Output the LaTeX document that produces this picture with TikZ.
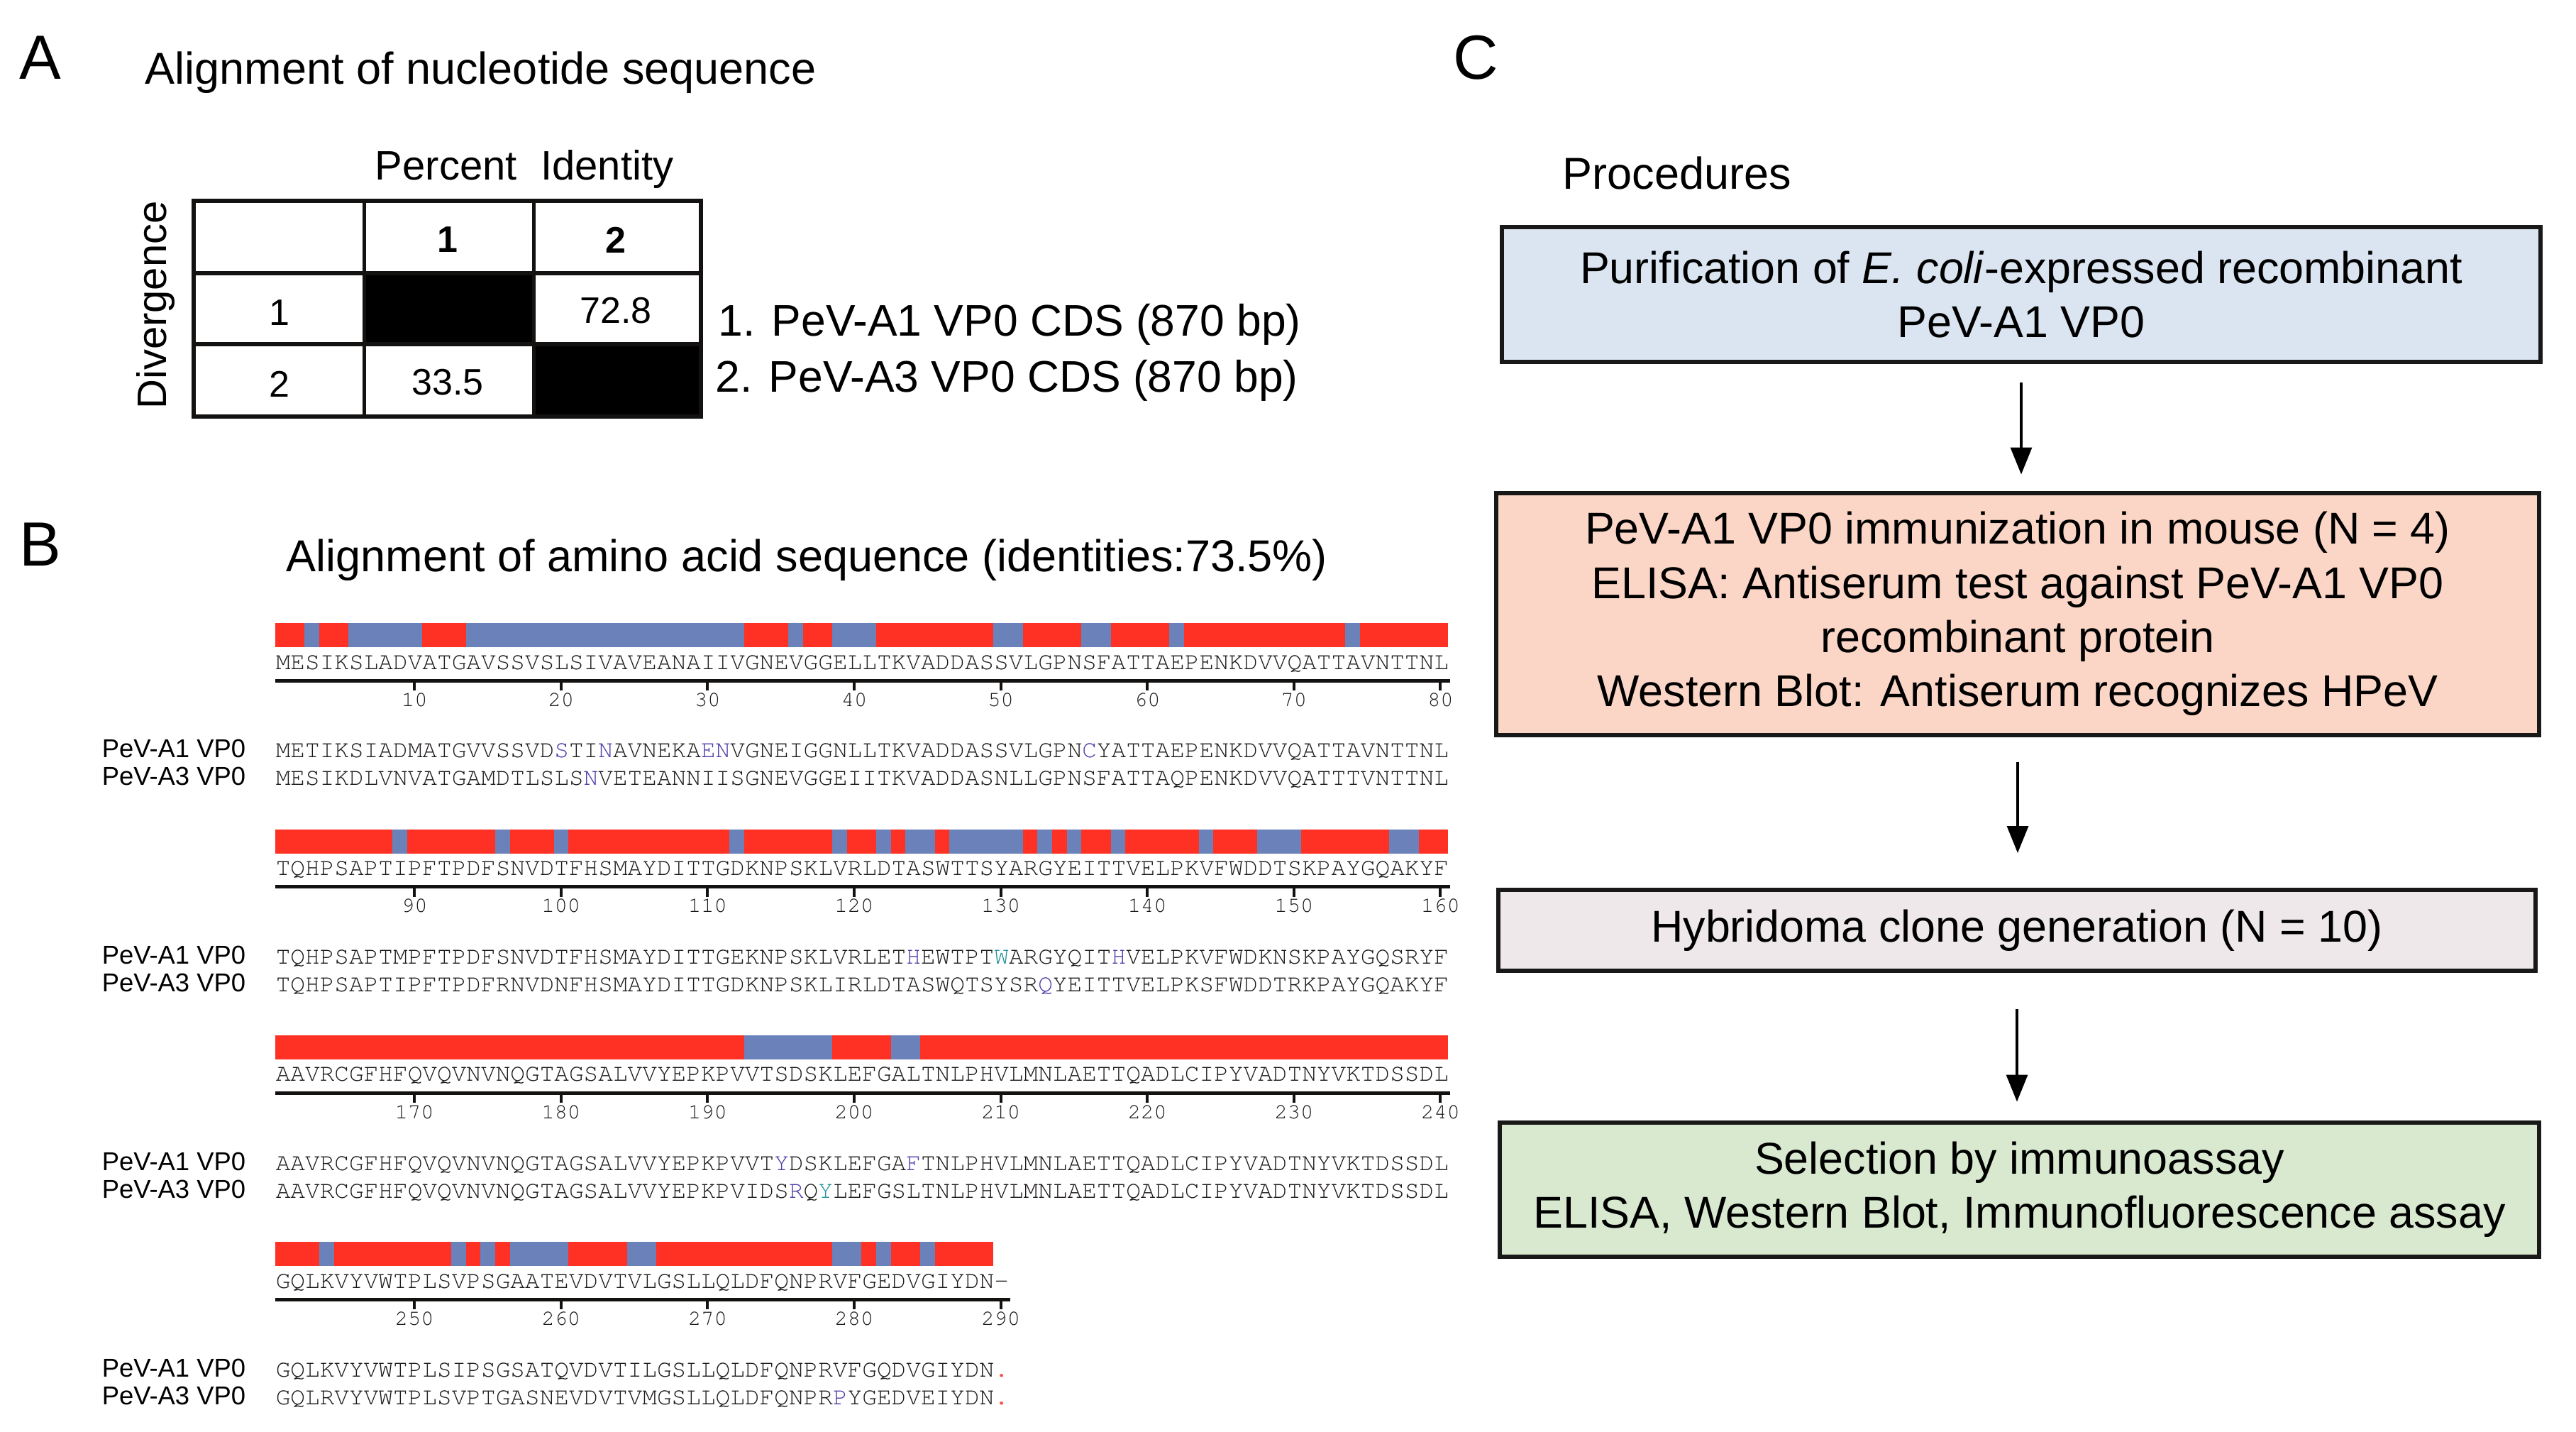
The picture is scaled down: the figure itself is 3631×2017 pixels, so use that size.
\documentclass[tikz,border=0pt]{standalone}
\usepackage[T1,TU]{fontenc}
\usepackage{fontspec}
\setmainfont{Liberation Sans}
\usetikzlibrary{arrows.meta}
\definecolor{seqred}{RGB}{255,49,36}
\definecolor{seqblue}{RGB}{106,129,185}
\definecolor{hlpc}{RGB}{75,62,170}
\definecolor{hltc}{RGB}{35,145,155}
\definecolor{hlrc}{RGB}{240,90,80}
\definecolor{seqtxt}{RGB}{30,26,26}
\definecolor{rulecol}{RGB}{20,18,16}
\definecolor{boxline}{RGB}{24,24,24}
\definecolor{boxblue}{RGB}{219,229,241}
\definecolor{boxpeach}{RGB}{251,214,198}
\definecolor{boxgray}{RGB}{238,232,234}
\definecolor{boxgreen}{RGB}{216,233,208}
\newcommand\seqfont{\fontencoding{T1}\fontfamily{pcr}\fontseries{m}\fontshape{n}\fontsize{8.61pt}{10pt}\selectfont}
\newcommand\numfont{\fontencoding{T1}\fontfamily{pcr}\fontseries{m}\fontshape{n}\fontsize{7.6pt}{9pt}\selectfont}
\newcommand\hlP[1]{\textcolor{hlpc}{#1}}
\newcommand\hlT[1]{\textcolor{hltc}{#1}}
\newcommand\hlR[1]{\textcolor{hlrc}{#1}}
% bar: #1 y0, #2 nchars, #3 blue runs
\newcommand\seqbar[3]{%
  \fill[seqred] (388,#1) rectangle ({388+#2*20.66},#1+34);
  \foreach \a/\b in {#3} {\fill[seqblue] ({388+(\a-1)*20.66},#1) rectangle ({388+\b*20.66},#1+34);}
}
% ruler: #1 tag, #2 y0, #3 nchars, #4 nticks, #5 number offset
\newcommand\seqruler[5]{%
  \draw[line width=1.25pt, rulecol] (388,#2+81) -- ({388+#3*20.66+3},#2+81);
  \foreach \t in {1,...,#4} {
    \pgfmathtruncatemacro\nn{#5+10*\t}
    \draw[line width=1pt, rulecol] ({388+(10*\t-0.5)*20.66},#2+81) -- ({388+(10*\t-0.5)*20.66},#2+95);
    \node[rnum] (n#1-\t) at ({388+(10*\t-0.5)*20.66},#2+117) {\nn};
  }
}
\begin{document}
\begin{tikzpicture}[x=0.25pt,y=-0.25pt,
  lab/.style={inner sep=0pt, anchor=base west, font=\fontsize{22pt}{26pt}\selectfont},
  ttl/.style={inner sep=0pt, anchor=base west, font=\fontsize{15.75pt}{19pt}\selectfont},
  seq/.style={inner sep=0pt, anchor=base west, font=\seqfont, text=seqtxt},
  seqlab/.style={inner sep=0pt, anchor=base west, font=\fontsize{9.1pt}{11pt}\selectfont},
  rnum/.style={inner sep=0pt, anchor=base, font=\numfont, text=seqtxt},
  tnum/.style={inner sep=0pt, font=\fontsize{13pt}{15pt}\selectfont},
  tnumb/.style={inner sep=0pt, font=\bfseries\fontsize{13pt}{15pt}\selectfont},
  box/.style={draw=boxline, line width=1.5pt, align=center, inner sep=0pt, font=\fontsize{15.7pt}{19.1pt}\selectfont},
  arr/.style={line width=0.8pt, draw=black, -{Triangle[width=7.5pt,length=9.5pt]}}
]
\useasboundingbox (0,0) rectangle (3631,2017);
\fill[white] (0,0) rectangle (3631,2017);

% ---------------- Panel A ----------------
\node[lab] (labA) at (27,111) {A};
\node[ttl] (ttlA) at (204,118) {Alignment of nucleotide sequence};
\node[inner sep=0pt, anchor=base, font=\fontsize{14.5pt}{17pt}\selectfont] (pid) at (739,253) {Percent\hspace{0.3em} Identity};
\node[rotate=90, anchor=base, inner sep=0pt, font=\fontsize{14.5pt}{16pt}\selectfont] (div) at (234,430) {Divergence};

\fill[black] (513,385) rectangle (752,485);
\fill[black] (752,485) rectangle (988,587);
\draw[line width=1.4pt, rulecol] (273,283) rectangle (988,587);
\draw[line width=1.5pt, rulecol] (273,385) -- (988,385);
\draw[line width=1.5pt, rulecol] (273,485) -- (988,485);
\draw[line width=1.25pt, rulecol] (513,283) -- (513,587);
\draw[line width=1.25pt, rulecol] (752,283) -- (752,587);

\node[tnumb] (h1) at (631,338) {1};
\node[tnumb] (h2) at (868,338) {2};
\node[tnum] (r1) at (394,441) {1};
\node[tnum] (r2) at (394,541) {2};
\node[tnum] (v12) at (868,438) {72.8};
\node[tnum] (v21) at (631,539) {33.5};

\node[ttl, font=\fontsize{15.6pt}{19pt}\selectfont] (leg1) at (1012,473) {1. PeV-A1 VP0 CDS (870 bp)};
\node[ttl, font=\fontsize{15.6pt}{19pt}\selectfont] (leg2) at (1008,552) {2. PeV-A3 VP0 CDS (870 bp)};

% ---------------- Panel B ----------------
\node[lab] (labB) at (27,797) {B};
\node[ttl] (ttlB) at (403,805) {Alignment of amino acid sequence (identities:73.5\%)};

% block 1
\seqbar{878}{80}{3/3,6/10,14/32,36/36,39/41,50/51,56/57,62/62,74/74}
\node[seq] (c1) at (388,943) {MESIKSLADVATGAVSSVSLSIVAVEANAIIVGNEVGGELLTKVADDASSVLGPNSFATTAEPENKDVVQATTAVNTTNL};
\seqruler{1}{878}{80}{8}{0}
\node[seqlab] (l1a) at (143,1067) {PeV-A1 VP0};
\node[seqlab] (l1b) at (143,1106) {PeV-A3 VP0};
\node[seq] (s1a) at (388,1067) {METIKSIADMATGVVSSVD\hlP{S}TI\hlP{N}AVNEKA\hlP{EN}VGNEIGGNLLTKVADDASSVLGPN\hlP{C}YATTAEPENKDVVQATTAVNTTNL};
\node[seq] (s1b) at (388,1106) {MESIKDLVNVATGAMDTLSLS\hlP{N}VETEANNIISGNEVGGEIITKVADDASNLLGPNSFATTAQPENKDVVQATTTVNTTNL};

% block 2
\seqbar{1168.7}{80}{9/9,16/16,20/20,32/32,39/39,42/42,44/45,47/51,53/53,55/55,58/58,64/64,68/70,77/78}
\node[seq] (c2) at (388,1233) {TQHPSAPTIPFTPDFSNVDTFHSMAYDITTGDKNPSKLVRLDTASWTTSYARGYEITTVELPKVFWDDTSKPAYGQAKYF};
\seqruler{2}{1168.7}{80}{8}{80}
\node[seqlab] (l2a) at (143,1358) {PeV-A1 VP0};
\node[seqlab] (l2b) at (143,1397) {PeV-A3 VP0};
\node[seq] (s2a) at (388,1358) {TQHPSAPTMPFTPDFSNVDTFHSMAYDITTGEKNPSKLVRLET\hlP{H}EWTPT\hlT{W}ARGYQIT\hlP{H}VELPKVFWDKNSKPAYGQSRYF};
\node[seq] (s2b) at (388,1397) {TQHPSAPTIPFTPDFRNVDNFHSMAYDITTGDKNPSKLIRLDTASWQTSYSR\hlP{Q}YEITTVELPKSFWDDTRKPAYGQAKYF};

% block 3
\seqbar{1459.4}{80}{33/38,43/44}
\node[seq] (c3) at (388,1523) {AAVRCGFHFQVQVNVNQGTAGSALVVYEPKPVVTSDSKLEFGALTNLPHVLMNLAETTQADLCIPYVADTNYVKTDSSDL};
\seqruler{3}{1459.4}{80}{8}{160}
\node[seqlab] (l3a) at (143,1649) {PeV-A1 VP0};
\node[seqlab] (l3b) at (143,1688) {PeV-A3 VP0};
\node[seq] (s3a) at (388,1649) {AAVRCGFHFQVQVNVNQGTAGSALVVYEPKPVVT\hlP{Y}DSKLEFGA\hlP{F}TNLPHVLMNLAETTQADLCIPYVADTNYVKTDSSDL};
\node[seq] (s3b) at (388,1688) {AAVRCGFHFQVQVNVNQGTAGSALVVYEPKPVIDS\hlP{R}Q\hlT{Y}LEFGSLTNLPHVLMNLAETTQADLCIPYVADTNYVKTDSSDL};

% block 4
\seqbar{1750.1}{49}{4/4,13/13,15/15,17/20,25/26,39/40,42/42,45/45}
\node[seq] (c4) at (388,1815) {GQLKVYVWTPLSVPSGAATEVDVTVLGSLLQLDFQNPRVFGEDVGIYDN-};
\seqruler{4}{1750.1}{50}{5}{240}
\node[seqlab] (l4a) at (143,1940) {PeV-A1 VP0};
\node[seqlab] (l4b) at (143,1979) {PeV-A3 VP0};
\node[seq] (s4a) at (388,1940) {GQLKVYVWTPLSIPSGSATQVDVTILGSLLQLDFQNPRVFGQDVGIYDN\hlR{.}};
\node[seq] (s4b) at (388,1979) {GQLRVYVWTPLSVPTGASNEVDVTVMGSLLQLDFQNPR\hlP{P}YGEDVEIYDN\hlR{.}};

% ---------------- Panel C ----------------
\node[lab] (labC) at (2048,111) {C};
\node[ttl] (proc) at (2202,266) {Procedures};

\node[box, fill=boxblue, minimum width=366pt, minimum height=47.5pt] (b1) at (2849,415)
  {Purification of \textit{E. coli}-expressed recombinant\\PeV-A1 VP0};
\node[box, fill=boxpeach, minimum width=367.5pt, minimum height=85.25pt] (b2) at (2844,865)
  {PeV-A1 VP0 immunization in mouse (N = 4)\\ELISA: Antiserum test against PeV-A1 VP0\\recombinant protein\\Western Blot: Antiserum recognizes HPeV};
\node[box, fill=boxgray, minimum width=365.5pt, minimum height=28.5pt] (b3) at (2843,1311)
  {Hybridoma clone generation (N = 10)};
\node[box, fill=boxgreen, minimum width=366.25pt, minimum height=47.25pt] (b4) at (2846.5,1676)
  {Selection by immunoassay\\ELISA, Western Blot, Immunofluorescence assay};

\draw[arr, shorten <=6.5pt, shorten >=5.75pt] (b1.south) -- (b1.south |- b2.north);
\draw[arr, shorten <=8.75pt, shorten >=12.25pt] (b2.south) -- (b2.south |- b3.north);
\draw[arr, shorten <=12.75pt, shorten >=6.5pt] (b3.south) -- (b3.south |- b4.north);
\end{tikzpicture}
\end{document}
